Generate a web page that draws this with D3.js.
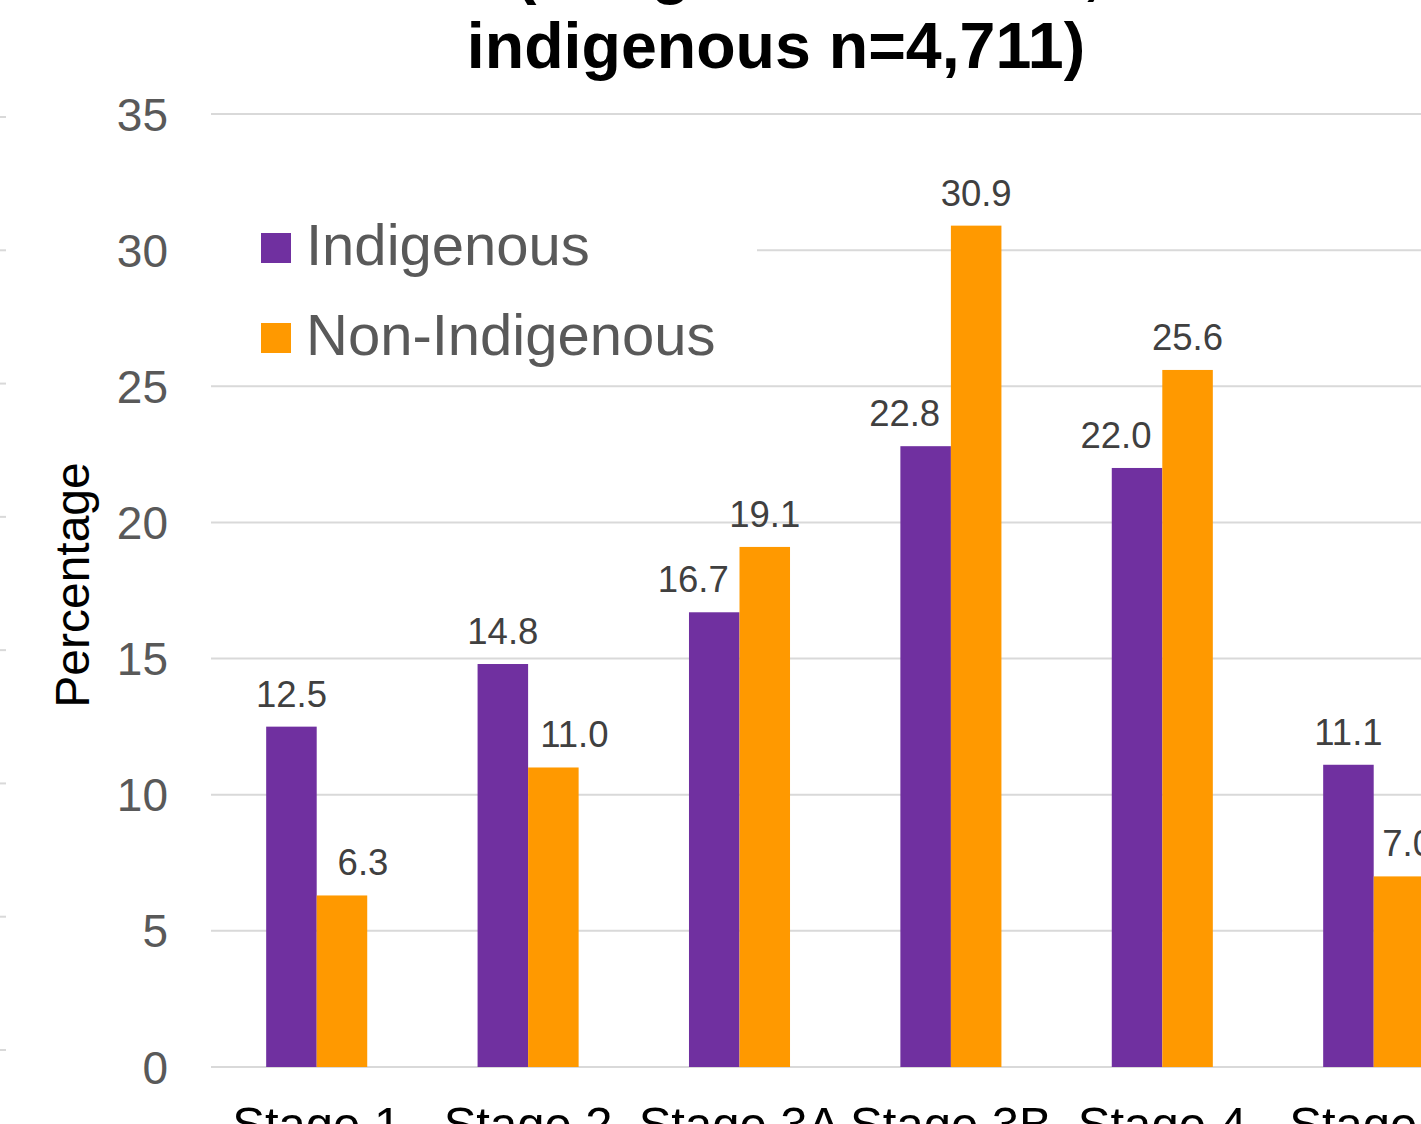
<!DOCTYPE html>
<html>
<head>
<meta charset="utf-8">
<script src="https://cdn.jsdelivr.net/npm/d3@7"></script>
<style>
  html, body { margin: 0; padding: 0; background: #fff; overflow: hidden; }
  svg { display: block; font-family: "Liberation Sans", Arial, sans-serif; }
</style>
</head>
<body>
<svg id="chart" width="1421" height="1124"></svg>
<script>
// Stage at diagnosis, percentage of cases
const categories = ["Stage 1", "Stage 2", "Stage 3A", "Stage 3B", "Stage 4", "Stage 5"];
const seriesNames = ["Indigenous", "Non-Indigenous"];
const indigenous = [12.5, 14.8, 16.7, 22.8, 22.0, 11.1];
const nonIndigenous = [6.3, 11.0, 19.1, 30.9, 25.6, 7.0];
const yTicks = [0, 5, 10, 15, 20, 25, 30, 35];
const titleLines = ["(Indigenous n=585, non-", "indigenous n=4,711)"];
const colors = ["#7030A0", "#FF9900"];

const W = 1421;
const svg = d3.select("#chart");

// plot area (extends past the right edge of the page)
const plot = { left: 211, top: 114, bottom: 1067, step: 211.4 };
const plotRight = plot.left + plot.step * categories.length;

const y = d3.scaleLinear().domain([0, 35]).range([plot.bottom, plot.top]);
const x0 = d3.scaleBand().domain(categories).range([plot.left, plotRight]).padding(0);
const groupW = x0.bandwidth() * 0.478;
const x1 = d3.scaleBand().domain(seriesNames).range([0, groupW]).padding(0);

// faint gridline stubs at the far left edge
const yEdge = d3.scaleLinear().domain([0, 35]).range([1050, 117]);
svg.append("g").selectAll("line").data(yTicks).join("line")
  .attr("x1", 0).attr("x2", 6)
  .attr("y1", d => yEdge(d)).attr("y2", d => yEdge(d))
  .attr("stroke", "#d9d9d9").attr("stroke-width", 2);

// gridlines
svg.append("g").selectAll("line").data(yTicks).join("line")
  .attr("x1", plot.left).attr("x2", plotRight)
  .attr("y1", d => y(d)).attr("y2", d => y(d))
  .attr("stroke", "#d9d9d9").attr("stroke-width", 2);

// y axis tick labels
const yAxis = d3.axisLeft(y).tickValues(yTicks).tickSize(0).tickPadding(0);
const gy = svg.append("g").attr("transform", "translate(168,0)").call(yAxis);
gy.select(".domain").remove();
gy.selectAll("text")
  .attr("font-family", "Liberation Sans, Arial, sans-serif")
  .attr("font-size", 46).attr("fill", "#595959").attr("dy", "0.35em");

// y axis title
svg.append("text")
  .attr("transform", "translate(89,585) rotate(-90)")
  .attr("text-anchor", "middle")
  .attr("font-size", 48).attr("fill", "#000")
  .text("Percentage");

// bars
const rows = categories.map((c, i) => ({ cat: c, values: [indigenous[i], nonIndigenous[i]] }));
const offset = (x0.bandwidth() - groupW) / 2;
const groups = svg.append("g").selectAll("g").data(rows).join("g")
  .attr("transform", d => `translate(${x0(d.cat) + offset},0)`);

const cells = d => d.values.map((v, j) => ({ name: seriesNames[j], v, j, other: d.values[1 - j] }));

groups.selectAll("rect").data(cells).join("rect")
  .attr("x", d => x1(d.name))
  .attr("y", d => y(d.v))
  .attr("width", x1.bandwidth())
  .attr("height", d => y(0) - y(d.v))
  .attr("fill", d => colors[d.j]);

// value labels; a label next to a taller sibling bar is nudged away from it,
// but a right-hand nudge never pushes the label far past the page edge
const nudge = 21;
groups.selectAll("text").data(cells).join("text")
  .attr("y", d => y(d.v) - 20)
  .attr("text-anchor", "middle")
  .attr("font-size", 36.5).attr("fill", "#404040")
  .text(d => d3.format(".1f")(d.v))
  .each(function (d) {
    const cx = x1(d.name) + x1.bandwidth() / 2;
    let x = cx;
    if (d.other > d.v) {
      if (d.j === 0) {
        x = cx - nudge;
      } else {
        const gx = x0(rows.find(r => r.values[1] === d.v && r.values[0] === d.other).cat) + offset;
        const half = this.getComputedTextLength() / 2;
        x = Math.min(cx + nudge, W + 12 - half - gx);
      }
    }
    d3.select(this).attr("x", x);
  });

// category labels
svg.append("g").selectAll("text").data(categories).join("text")
  .attr("x", d => x0(d) + x0.bandwidth() / 2)
  .attr("y", 1141)
  .attr("text-anchor", "middle")
  .attr("font-size", 49).attr("fill", "#000")
  .text(d => d);

// legend
const legend = svg.append("g");
legend.append("rect")
  .attr("x", 205).attr("y", 195).attr("width", 552).attr("height", 175)
  .attr("fill", "#fff");
const items = legend.selectAll("g.item").data(seriesNames).join("g")
  .attr("class", "item")
  .attr("transform", (d, i) => `translate(261,${233 + i * 90})`);
items.append("rect").attr("width", 30).attr("height", 30)
  .attr("fill", (d, i) => colors[i]);
items.append("text").attr("x", 45).attr("y", 32)
  .attr("font-size", 58).attr("fill", "#595959")
  .text(d => d);

// title
svg.append("text")
  .attr("x", 515).attr("y", -8)
  .attr("font-size", 64.5).attr("font-weight", "bold").attr("fill", "#000")
  .text(titleLines[0]);
svg.append("text")
  .attr("x", 776).attr("y", 68)
  .attr("text-anchor", "middle")
  .attr("font-size", 64.5).attr("font-weight", "bold").attr("fill", "#000")
  .text(titleLines[1]);
</script>
</body>
</html>
